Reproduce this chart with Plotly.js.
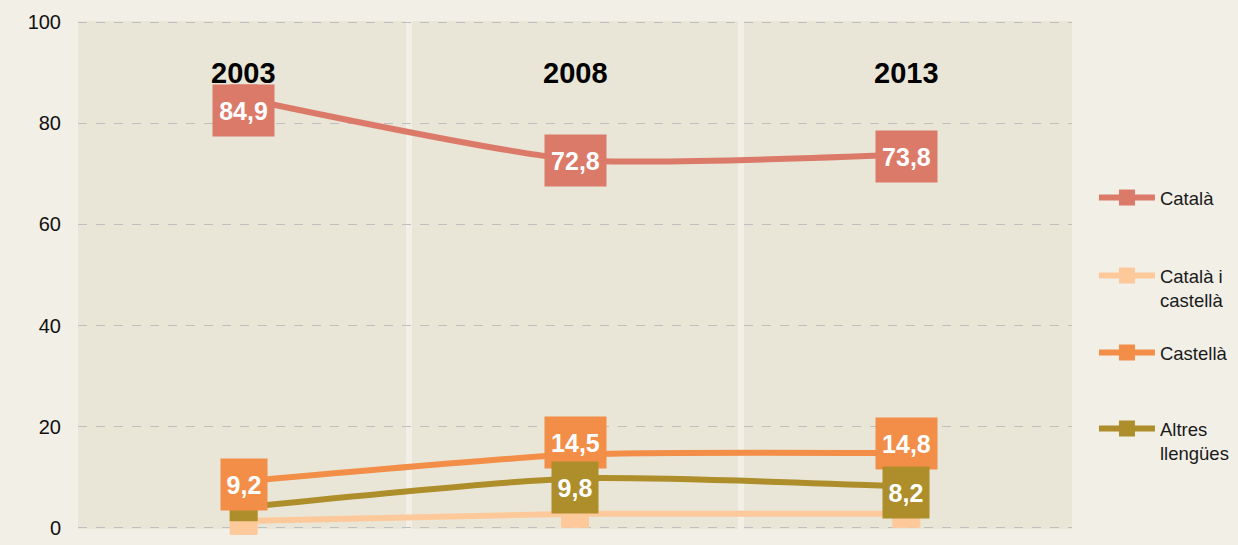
<!DOCTYPE html>
<html>
<head>
<meta charset="utf-8">
<script src="https://cdn.plot.ly/plotly-3.0.1.min.js"></script>
<style>html,body{margin:0;padding:0;background:#f2efe7;}#chart{width:1238px;height:545px;}</style>
</head>
<body>
<div id="chart"></div>
<script>
// ---- data ----
const years = ['2003', '2008', '2013'];
const seriesNames = ['Català', 'Català i<br>castellà', 'Castellà', 'Altres<br>llengües'];
const catala = [84.9, 72.8, 73.8];
const catalaICastella = [1.4, 2.8, 2.8];
const castella = [9.2, 14.5, 14.8];
const altres = [4.1, 9.8, 8.2];

// ---- styles ----
const colors = ['#dc7a6a', '#fdc99b', '#f28e48', '#ad8e2a'];
const allValues = [catala, catalaICastella, castella, altres];
const showLabels = [[true, true, true], [false, false, false], [true, true, true], [false, true, true]];
const labelShift = [[-12, -1, -2], [0, 0, 0], [-3, 12, 10], [0, -9, -6]];
const legendTops = [0.689, 0.5354, 0.3839, 0.2343];
const FONT = '"Liberation Sans", Arial, sans-serif';

const traces = allValues.map((vals, i) => ({
  type: 'scatter',
  mode: 'lines+markers',
  x: years,
  y: vals,
  name: seriesNames[i],
  legend: i === 0 ? 'legend' : 'legend' + (i + 1),
  line: {color: colors[i], width: 6, shape: 'spline', smoothing: 0.6},
  marker: {symbol: 'square', size: 28, color: colors[i], line: {width: 0}},
  cliponaxis: false,
  hoverinfo: 'skip'
}));

const annotations = [];
allValues.forEach((vals, i) => {
  vals.forEach((v, j) => {
    if (!showLabels[i][j]) return;
    const txt = v.toFixed(1).replace('.', ',');
    annotations.push({
      x: j, y: v, xref: 'x', yref: 'y',
      text: '<b>' + txt + '</b>',
      showarrow: false,
      font: {family: FONT, size: 25, color: '#ffffff'},
      bgcolor: colors[i],
      width: txt.length > 3 ? 57 : 42,
      height: 47,
      borderpad: 2,
      yshift: labelShift[i][j]
    });
  });
});
years.forEach((yr, j) => {
  annotations.push({
    x: j, y: 0.8976, xref: 'x', yref: 'paper', yanchor: 'middle', xanchor: 'center',
    text: '<b>' + yr + '</b>', showarrow: false,
    font: {family: FONT, size: 29, color: '#000000'}
  });
});

const layout = {
  width: 1238, height: 545,
  paper_bgcolor: '#f2efe7',
  plot_bgcolor: '#e9e6d7',
  margin: {l: 78, r: 166, t: 21, b: 16, autoexpand: false},
  font: {family: FONT, color: '#111111'},
  xaxis: {
    type: 'category', range: [-0.5, 2.5],
    showticklabels: false, ticks: '',
    tickson: 'boundaries', showgrid: true,
    gridcolor: '#f2efe7', gridwidth: 6,
    showline: false, zeroline: false, fixedrange: true
  },
  yaxis: {
    range: [-0.2, 100.2], tickvals: [0, 20, 40, 60, 80, 100],
    showgrid: true, gridcolor: '#bfbfbf', gridwidth: 1, griddash: 'dash',
    zeroline: false, showline: false, ticks: '',
    ticklabelstandoff: 16,
    tickfont: {family: FONT, size: 20, color: '#111111'},
    fixedrange: true
  },
  annotations: annotations,
  showlegend: true
};
for (let i = 0; i < 4; i++) {
  const key = i === 0 ? 'legend' : 'legend' + (i + 1);
  layout[key] = {
    x: 1.0221, xanchor: 'left', y: legendTops[i], yanchor: 'top',
    bgcolor: 'rgba(0,0,0,0)', borderwidth: 0,
    font: {family: FONT, size: 18.5, color: '#1a1a1a'},
    itemwidth: 56, valign: 'top'
  };
}

Plotly.newPlot('chart', traces, layout, {displayModeBar: false});
</script>
</body>
</html>
